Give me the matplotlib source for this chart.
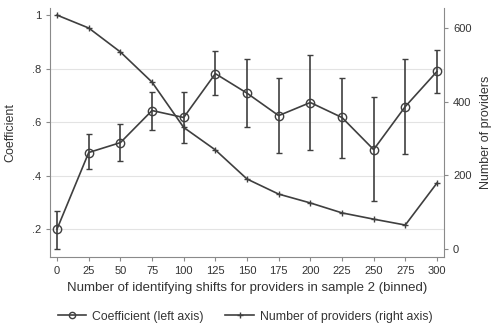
import numpy as np
import matplotlib.pyplot as plt
from matplotlib.lines import Line2D

plt.rcParams['font.family'] = ['Liberation Sans', 'DejaVu Sans']

shifts = [0, 25, 50, 75, 100, 125, 150, 175, 200, 225, 250, 275, 300]
coef = [0.200, 0.486, 0.523, 0.643, 0.617, 0.781, 0.708, 0.624, 0.673, 0.617, 0.497, 0.658, 0.789]
ci_hi = [0.267, 0.557, 0.594, 0.714, 0.714, 0.864, 0.837, 0.763, 0.852, 0.766, 0.692, 0.834, 0.871]
ci_lo = [0.125, 0.426, 0.456, 0.572, 0.523, 0.700, 0.580, 0.486, 0.497, 0.467, 0.305, 0.482, 0.707]
providers = [635, 600, 535, 453, 330, 269, 190, 149, 125, 98, 81, 65, 179]

col = '#3f3f3f'
fig = plt.figure(figsize=(4.96, 3.25), dpi=100)
ax = fig.add_axes([0.101, 0.209, 0.794, 0.766])
ax2 = ax.twinx()

coef = np.array(coef)
yerr = [coef - np.array(ci_lo), np.array(ci_hi) - coef]
ax.errorbar(shifts, coef, yerr=yerr, color=col, lw=1.2, marker='o', ms=6,
            mfc='none', mec=col, mew=1.0, capsize=2.5, elinewidth=1.2, capthick=1.2, zorder=3)
ax2.plot(shifts, providers, color=col, lw=1.2, marker='+', ms=4, mew=1.0)

ax.set_xlim(-5.5, 305.5)
ax.set_ylim(0.095, 1.026)
ax2.set_ylim(-22, 654)
ax.set_xticks(shifts)
ax.set_yticks([0.2, 0.4, 0.6, 0.8, 1.0])
ax.set_yticklabels(['.2', '.4', '.6', '.8', '1'])
ax2.set_yticks([0, 200, 400, 600])
for y in [0.2, 0.4, 0.6, 0.8]:
    ax.axhline(y, color='#e3e3e3', lw=0.8, zorder=0)

for a in (ax, ax2):
    a.spines['top'].set_visible(False)
    for s in a.spines.values():
        s.set_color('#8a8a8a')
    a.tick_params(colors='#8a8a8a', labelcolor='#333333', labelsize=8, length=3, width=0.8)
ax.spines['right'].set_visible(False)
ax2.spines['left'].set_visible(False)
ax2.spines['bottom'].set_visible(False)

ax.set_xlabel('Number of identifying shifts for providers in sample 2 (binned)', fontsize=9.5, color='#333333', labelpad=4)
ax.set_ylabel('Coefficient', fontsize=9, color='#333333', labelpad=11)
ax2.set_ylabel('Number of providers', fontsize=9, color='#333333', labelpad=6)

handles = [Line2D([], [], color=col, lw=1.2, marker='o', ms=4.5, mfc='none', mec=col),
           Line2D([], [], color=col, lw=1.2, marker='+', ms=4)]
fig.legend(handles, ['Coefficient (left axis)', 'Number of providers (right axis)'],
           loc='center', bbox_to_anchor=(0.494, 0.026), ncol=2, frameon=False,
           fontsize=8.8, handlelength=2.3, handletextpad=0.5, columnspacing=1.8,
           labelcolor='#333333', borderpad=0)

fig.savefig('out.png', dpi=100)
